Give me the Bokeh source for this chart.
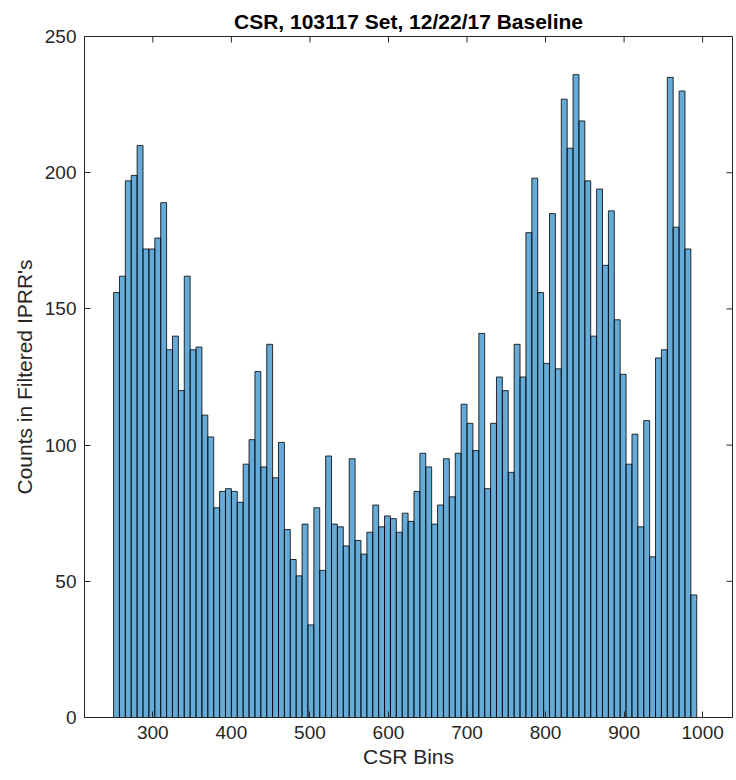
import numpy as np
from bokeh.plotting import figure
from bokeh.models import FixedTicker, Range1d, ColumnDataSource
from bokeh.embed import file_html
from bokeh.resources import INLINE

# Histogram bins: equal-width bins starting at 250
bin_start = 250.0
bin_width = 7.5

# Counts per bin
counts = [
    156, 162, 197, 199, 210, 172, 172, 176, 189, 135,
    140, 120, 162, 135, 136, 111, 103, 77, 83, 84,
    83, 79, 93, 102, 127, 92, 137, 88, 101, 69,
    58, 52, 71, 34, 77, 54, 96, 71, 70, 63,
    95, 65, 60, 68, 78, 70, 74, 73, 68, 75,
    72, 83, 97, 92, 71, 78, 95, 81, 97, 115,
    108, 98, 141, 84, 108, 125, 120, 90, 137, 125,
    178, 198, 156, 130, 185, 128, 227, 209, 236, 219,
    197, 140, 194, 166, 186, 146, 126, 93, 104, 70,
    109, 59, 132, 135, 235, 180, 230, 172, 45,
]

x_ticks = [300, 400, 500, 600, 700, 800, 900, 1000]
y_ticks = [0, 50, 100, 150, 200, 250]

X_LIM = (213, 1038)
Y_LIM = (0, 250)

W, H = 736, 780
BORDER = dict(left=84, right=4, top=36, bottom=63)
FRAME_W = W - BORDER["left"] - BORDER["right"]
FRAME_H = H - BORDER["top"] - BORDER["bottom"]

AX_COLOR = "#262626"
FONT = "Liberation Sans"
TICK_PX = 6

edges = bin_start + bin_width * np.arange(len(counts) + 1)
src = ColumnDataSource(dict(
    left=edges[:-1], right=edges[1:], top=counts, bottom=[0] * len(counts)
))

p = figure(
    width=W, height=H,
    output_backend="svg", toolbar_location=None,
    x_range=Range1d(*X_LIM), y_range=Range1d(*Y_LIM),
    title="CSR, 103117 Set, 12/22/17 Baseline",
    x_axis_label="CSR Bins", y_axis_label="Counts in Filtered IPRR's",
    min_border_left=BORDER["left"], min_border_right=BORDER["right"],
    min_border_top=BORDER["top"], min_border_bottom=BORDER["bottom"],
)
p.outline_line_color = AX_COLOR
p.outline_line_width = 1
p.xgrid.visible = False
p.ygrid.visible = False
p.background_fill_color = "white"
p.border_fill_color = "white"

p.title.align = "center"
p.title.text_font = FONT
p.title.text_font_style = "bold"
p.title.text_font_size = "21px"
p.title.text_color = "black"
p.title.standoff = 8

p.quad(left="left", right="right", top="top", bottom="bottom", source=src,
       fill_color="#0072BD", fill_alpha=0.6,
       line_color="black", line_width=0.8)

# Inward tick marks on the top and right edges of the box
dx = TICK_PX * (X_LIM[1] - X_LIM[0]) / FRAME_W
dy = TICK_PX * (Y_LIM[1] - Y_LIM[0]) / FRAME_H
p.segment(x0=x_ticks, x1=x_ticks,
          y0=[Y_LIM[1]] * len(x_ticks), y1=[Y_LIM[1] - dy] * len(x_ticks),
          line_color=AX_COLOR, line_width=1)
p.segment(x0=[X_LIM[1]] * len(y_ticks), x1=[X_LIM[1] - dx] * len(y_ticks),
          y0=y_ticks, y1=y_ticks,
          line_color=AX_COLOR, line_width=1)


def style_axis(ax, ticks):
    ax.ticker = FixedTicker(ticks=ticks)
    ax.axis_line_color = AX_COLOR
    ax.axis_line_width = 1
    ax.major_tick_in = TICK_PX
    ax.major_tick_out = 0
    ax.major_tick_line_color = AX_COLOR
    ax.major_tick_line_width = 1
    ax.minor_tick_line_color = None
    ax.major_label_text_font = FONT
    ax.major_label_text_font_size = "19px"
    ax.major_label_text_color = AX_COLOR
    ax.major_label_standoff = 8
    ax.axis_label_text_font = FONT
    ax.axis_label_text_font_size = "21px"
    ax.axis_label_text_font_style = "normal"
    ax.axis_label_text_color = AX_COLOR
    ax.axis_label_standoff = 6


for ax in p.below:
    style_axis(ax, x_ticks)
    ax.axis_label_standoff = 3
for ax in p.left:
    style_axis(ax, y_ticks)

open("out.html", "w").write(file_html(p, INLINE))
